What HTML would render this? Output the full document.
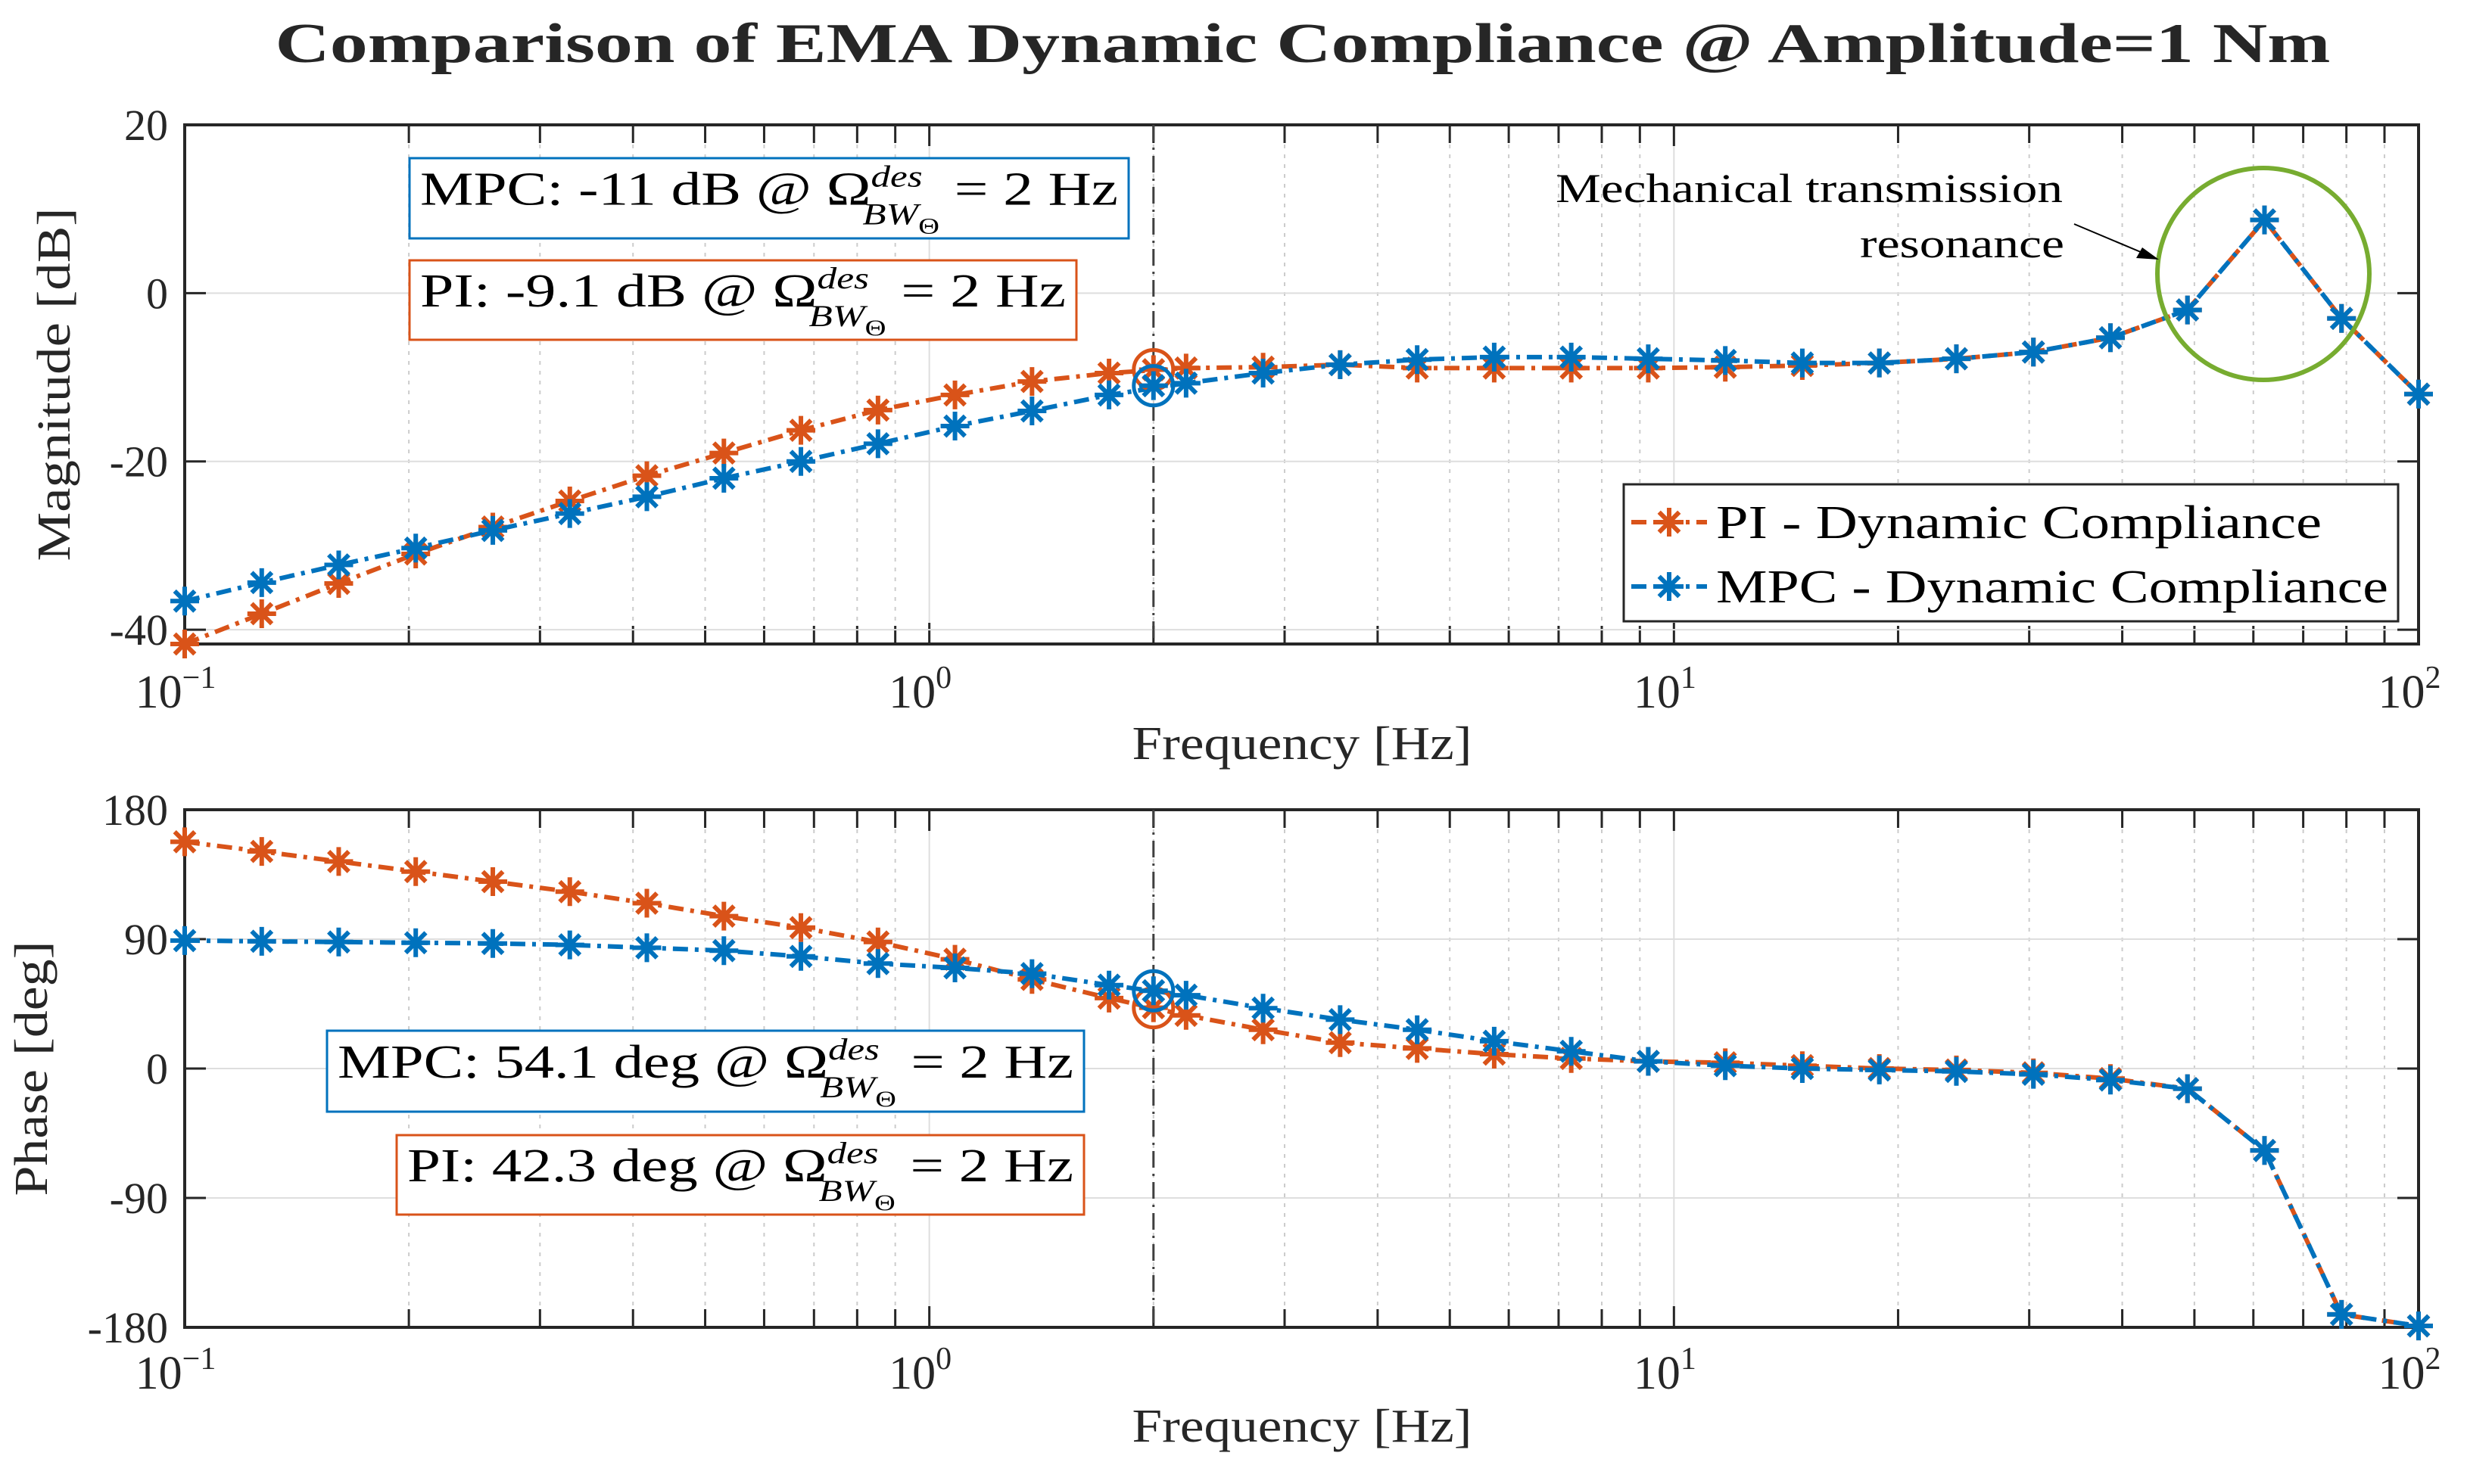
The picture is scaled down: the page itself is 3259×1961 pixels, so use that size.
<!DOCTYPE html>
<html><head><meta charset="utf-8">
<style>
html,body{margin:0;padding:0;background:#fff;}
svg{display:block;font-family:"Liberation Serif",serif;}
</style></head>
<body>
<svg id="chart" width="3259" height="1961" viewBox="0 0 3259 1961" xmlns="http://www.w3.org/2000/svg">
<rect width="3259" height="1961" fill="#fff"/>
<text x="1721" y="82" text-anchor="middle" font-size="74" font-weight="bold" fill="#262626" textLength="2715" lengthAdjust="spacingAndGlyphs">Comparison of EMA Dynamic Compliance @ Amplitude=1 Nm</text>
<g id="top"></g>
<g id="bot"></g>
</svg>
<script>
const freqs = [0.1,0.1269,0.1610,0.2043,0.2593,0.3290,0.4175,0.5298,0.6723,0.8532,1.0826,1.3738,1.7433,2.2122,2.8072,3.5622,4.5204,5.7362,7.2790,9.2367,11.721,14.874,18.874,23.950,30.392,38.566,48.939,62.102,78.805,100];
const magPI = [-41.7,-38.1,-34.5,-31,-27.8,-24.7,-21.7,-19,-16.3,-13.9,-12.1,-10.5,-9.5,-8.9,-8.8,-8.5,-8.9,-8.9,-8.9,-8.9,-8.8,-8.6,-8.3,-7.8,-7,-5.3,-2,8.7,-3,-12];
const magMPC = [-36.6,-34.4,-32.3,-30.3,-28.2,-26.2,-24.2,-22,-20,-17.9,-15.8,-14,-12.1,-10.7,-9.5,-8.5,-7.9,-7.6,-7.6,-7.8,-8,-8.3,-8.3,-7.8,-7,-5.3,-2,8.7,-3,-12];
const phPI = [157.7,151,144,137,130,123,115,106,98,88,76,62,49,37,27,18,14,10,7,5,4,2,0,-1,-3,-7,-14,-57,-171,-179];
const phMPC = [89,88.5,88,87.5,87,86,84,82,78,73,70,66,58,51,42,34,27,19,12,5,2,0,-1,-2,-4,-8,-14,-57,-171,-179];
const bwFreq = 2;
const bwMag = [-9.1,-11];
const bwPh = [42.3,54.1];
const magTicks = [20,0,-20,-40];
const phTicks = [180,90,0,-90,-180];
const xDecades = [-1,0,1,2];

const NS='http://www.w3.org/2000/svg';
const C_PI='#D95319', C_MPC='#0072BD';
const L=244, R=3195;
function X(f){return L+(Math.log10(f)+1)/3*(R-L);}
function mk(tag,attrs,parent){const e=document.createElementNS(NS,tag);for(const k in attrs)e.setAttribute(k,attrs[k]);parent.appendChild(e);return e;}

function star(g,x,y,c,s){
  const d=`M${x-s},${y}L${x+s},${y}M${x},${y-s}L${x},${y+s}M${x-s*0.7},${y-s*0.7}L${x+s*0.7},${y+s*0.7}M${x-s*0.7},${y+s*0.7}L${x+s*0.7},${y-s*0.7}`;
  const p=mk('path',{d:d,stroke:c,'stroke-width':6,fill:'none'},g);
  
  
}

function axes(g,top,bot,ymin,ymax,ticks,ylabel,ylx,ylen,xlabY,tickY,series,bw,name){
  const Y=v=>bot-(v-ymin)/(ymax-ymin)*(bot-top);
  for(let d=-1;d<2;d++)for(let m=2;m<=9;m++){
    const x=X(m*Math.pow(10,d));
    const ln=mk('line',{x1:x,x2:x,y1:top,y2:bot,stroke:'#cccccc','stroke-width':2,'stroke-dasharray':'5,8'},g);
    
    
    mk('line',{x1:x,x2:x,y1:bot,y2:bot-24,stroke:'#262626','stroke-width':3},g);
    mk('line',{x1:x,x2:x,y1:top,y2:top+24,stroke:'#262626','stroke-width':3},g);
  }
  xDecades.forEach(d=>{
    const x=X(Math.pow(10,d));
    const ln=mk('line',{x1:x,x2:x,y1:top,y2:bot,stroke:'#dedede','stroke-width':2},g);
    
    
    mk('line',{x1:x,x2:x,y1:bot,y2:bot-28,stroke:'#262626','stroke-width':3},g);
    mk('line',{x1:x,x2:x,y1:top,y2:top+28,stroke:'#262626','stroke-width':3},g);
    const t=mk('text',{x:x-12,y:tickY,'text-anchor':'middle','font-size':62,fill:'#262626'},g);
    
    
    t.textContent='10';
    const s=mk('tspan',{dy:-26,'font-size':42},t); s.textContent=String(d).replace('-','\u2212');
  });
  ticks.forEach(v=>{
    const y=Y(v);
    const ln=mk('line',{x1:L,x2:R,y1:y,y2:y,stroke:'#dedede','stroke-width':2},g);
    
    
    mk('line',{x1:L,x2:L+28,y1:y,y2:y,stroke:'#262626','stroke-width':3},g);
    mk('line',{x1:R,x2:R-28,y1:y,y2:y,stroke:'#262626','stroke-width':3},g);
    const t=mk('text',{x:222,y:y+20,'text-anchor':'end','font-size':58,fill:'#262626'},g);
    
    
    t.textContent=String(v);
  });
  const fr=mk('rect',{x:L,y:top,width:R-L,height:bot-top,fill:'none',stroke:'#262626','stroke-width':4},g);
  
  
  const vl=mk('line',{x1:X(bwFreq),x2:X(bwFreq),y1:top,y2:bot,stroke:'#404040','stroke-width':3,'stroke-dasharray':'22,8,3,8'},g);
  
  
  series.forEach(([vals,col,nm])=>{
    const pts=vals.map((v,i)=>X(freqs[i])+','+Y(v)).join(' ');
    const pl=mk('polyline',{points:pts,fill:'none',stroke:col,'stroke-width':6,'stroke-dasharray':'20,9,5,9'},g);
    
    
    vals.forEach((v,i)=>star(g,X(freqs[i]),Y(v),col,19));
  });
  bw.forEach(([v,col,nm])=>{
    const c=mk('circle',{cx:X(bwFreq),cy:Y(v),r:26,fill:'none',stroke:col,'stroke-width':5},g);
    
    
    star(g,X(bwFreq),Y(v),col,19);
  });
  const xl=mk('text',{x:1720,y:xlabY,'text-anchor':'middle','font-size':62,fill:'#262626',textLength:449,lengthAdjust:'spacingAndGlyphs'},g);
  
  
  xl.textContent='Frequency [Hz]';
  const cy=(top+bot)/2;
  const yl=mk('text',{x:ylx,y:cy,'text-anchor':'middle','font-size':62,fill:'#262626',transform:`rotate(-90 ${ylx} ${cy})`,textLength:ylen,lengthAdjust:'spacingAndGlyphs'},g);
  
  
  yl.textContent=ylabel;
  return Y;
}

function box(g,x,y,w,h,col,pre,name){
  const bg=mk('g',{},g);
  
  
  mk('rect',{x:x,y:y,width:w,height:h,fill:'#fff',stroke:col,'stroke-width':3},bg);
  const t=mk('text',{x:x+14,y:y+h*0.58,'font-size':62,fill:'#000',textLength:w-28,lengthAdjust:'spacingAndGlyphs'},bg);
  t.textContent=pre+' \u03A9';
  const s1=mk('tspan',{dy:-24,'font-size':40,'font-style':'italic'},t); s1.textContent='des';
  const s2=mk('tspan',{dx:-62,dy:50,'font-size':40,'font-style':'italic'},t); s2.textContent='BW';
  const s3=mk('tspan',{dy:12,'font-size':30},t); s3.textContent='\u0398';
  const s4=mk('tspan',{dy:-38,'font-size':62},t); s4.textContent=' = 2 Hz';
}

const gt=document.getElementById('top');
axes(gt,165,851,-41.7,20,magTicks,'Magnitude [dB]',92,467,1003,935,[[magPI,C_PI,'pi-magnitude'],[magMPC,C_MPC,'mpc-magnitude']],[[bwMag[0],C_PI,'pi'],[bwMag[1],C_MPC,'mpc']],'magnitude');
box(gt,541,209,950,106,C_MPC,'MPC: -11 dB @','mpc-magnitude-annotation');
box(gt,541,344,881,105,C_PI,'PI: -9.1 dB @','pi-magnitude-annotation');
const lg=mk('g',{},gt);


mk('rect',{x:2145,y:640,width:1023,height:181,fill:'#fff',stroke:'#262626','stroke-width':3},lg);
[[C_PI,'PI - Dynamic Compliance',690,'legend-entry-pi',800],[C_MPC,'MPC - Dynamic Compliance',775,'legend-entry-mpc',888]].forEach(([c,tx,y,nm,w])=>{
  const e=mk('g',{},lg);
  
  
  mk('line',{x1:2155,x2:2255,y1:y,y2:y,stroke:c,'stroke-width':6,'stroke-dasharray':'20,9,5,9'},e);
  star(e,2205,y,c,19);
  const t=mk('text',{x:2267,y:y+21,'font-size':62,fill:'#000',textLength:w,lengthAdjust:'spacingAndGlyphs'},e);
  t.textContent=tx;
});
const ra=mk('g',{},gt);


mk('circle',{cx:2990,cy:362,r:140,fill:'none',stroke:'#77AC30','stroke-width':6},ra);
const t1=mk('text',{x:2390,y:267,'text-anchor':'middle','font-size':54,fill:'#000',textLength:670,lengthAdjust:'spacingAndGlyphs'},ra);t1.textContent='Mechanical transmission';
const t2=mk('text',{x:2727,y:340,'text-anchor':'end','font-size':54,fill:'#000',textLength:270,lengthAdjust:'spacingAndGlyphs'},ra);t2.textContent='resonance';
mk('line',{x1:2740,y1:296,x2:2835,y2:336,stroke:'#000','stroke-width':2},ra);
mk('path',{d:'M2852,343 L2822,341 L2830,327 Z',fill:'#000'},ra);

const gb=document.getElementById('bot');
axes(gb,1070,1754,-180,180,phTicks,'Phase [deg]',62,337,1905,1835,[[phPI,C_PI,'pi-phase'],[phMPC,C_MPC,'mpc-phase']],[[bwPh[0],C_PI,'pi'],[bwPh[1],C_MPC,'mpc']],'phase');
box(gb,432,1362,1000,107,C_MPC,'MPC: 54.1 deg @','mpc-phase-annotation');
box(gb,524,1500,908,105,C_PI,'PI: 42.3 deg @','pi-phase-annotation');
</script>
</body></html>
